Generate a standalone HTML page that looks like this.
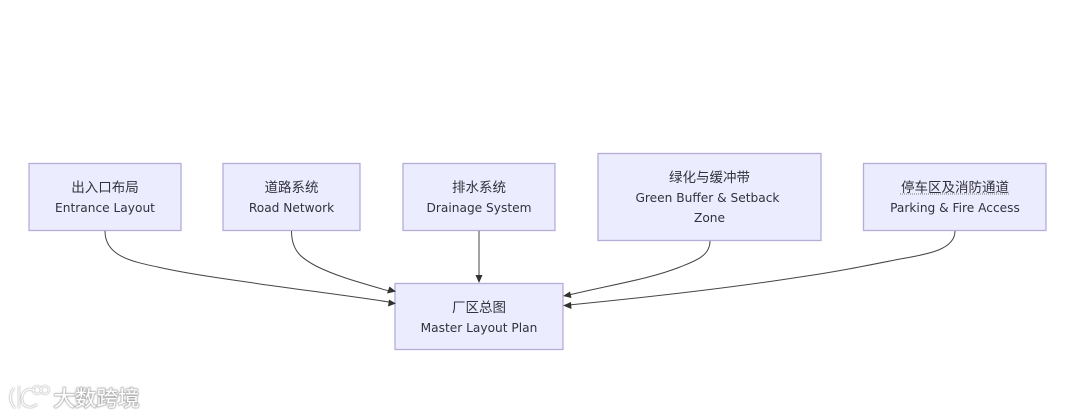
<!DOCTYPE html>
<html><head><meta charset="utf-8"><style>
html,body{margin:0;padding:0;background:#fff}
svg{display:block}
.n{fill:#ECECFF;stroke:#B5ADD8;stroke-width:1.3}
.e{fill:none;stroke:#444;stroke-width:1}
.h{fill:#333}
text{font-family:"DejaVu Sans","Liberation Sans","Noto Sans CJK SC",sans-serif;font-size:12.2px;fill:#33333c;text-anchor:middle}
.z{font-family:"Noto Sans CJK SC",sans-serif;font-size:13.5px}
</style></head><body>
<svg width="1080" height="418" viewBox="0 0 1080 418" xmlns="http://www.w3.org/2000/svg">
<defs><filter id="s" x="-5%" y="-5%" width="110%" height="110%"><feGaussianBlur stdDeviation="0.35"/></filter>
<filter id="w" x="-20%" y="-40%" width="140%" height="180%"><feGaussianBlur stdDeviation="0.8"/></filter></defs>
<g filter="url(#s)">
<rect class="n" x="29" y="163.5" width="152" height="67"/>
<rect class="n" x="223" y="163.5" width="137" height="67"/>
<rect class="n" x="403" y="163.5" width="152" height="67"/>
<rect class="n" x="598" y="153.5" width="223" height="87"/>
<rect class="n" x="863.5" y="163.5" width="182.5" height="67"/>
<rect class="n" x="395" y="283.5" width="168" height="66"/>

<path class="e" d="M105,231 C105,258 135,262 167,269 C200,276 235,280 267,285 C310,291 350,296 389,302"/>
<path class="e" d="M291.5,231 C291.5,252 303,259 316,266 C338,277 362,283 389,291"/>
<path class="e" d="M479,231 L479,277"/>
<path class="e" d="M710,241 C710,256 695,261 680,267 C650,279 610,285 569,295"/>
<path class="e" d="M955,231 C955,249 930,254 900,259 C865,266 835,272 800,277 C730,288 640,298 569,305"/>

<polygon class="h" points="396,291.5 387,293.5 389.5,286.5"/>
<polygon class="h" points="396,303.5 388,306.5 389,299.5"/>
<polygon class="h" points="479,283 475.5,275 482.5,275"/>
<polygon class="h" points="563,296 570,291.5 571.5,298"/>
<polygon class="h" points="563,305.5 571,302 571.5,309"/>

<text class="z" x="105" y="192">出入口布局</text>
<text x="105" y="212">Entrance Layout</text>
<text class="z" x="291.5" y="192">道路系统</text>
<text x="291.5" y="212">Road Network</text>
<text class="z" x="479" y="192">排水系统</text>
<text x="479" y="212">Drainage System</text>
<text class="z" x="709.5" y="182">绿化与缓冲带</text>
<text x="707.5" y="202">Green Buffer &amp; Setback</text>
<text x="709.5" y="222">Zone</text>
<text class="z" x="955" y="192">停车区及消防通道</text>
<line x1="900" y1="194" x2="1010" y2="194" stroke="#555" stroke-width="0.8" stroke-dasharray="1 1"/>
<text x="955" y="212">Parking &amp; Fire Access</text>
<text class="z" x="479" y="312">厂区总图</text>
<text x="479" y="332">Master Layout Plan</text>
</g>

<g filter="url(#w)" opacity="0.7">
<text x="96.5" y="406" style="font-family:'Noto Sans CJK SC',sans-serif;font-size:21.5px;fill:none;stroke:#888;stroke-width:1.6">大数跨境</text>
<path d="M14,388 C9,394 9,402 15,408 M19,386 L19,408 M35,391 C27,386 21,393 22,400 C23,408 32,409 37,404" fill="none" stroke="#888" stroke-width="2"/>
<circle cx="37" cy="390" r="4" fill="none" stroke="#888" stroke-width="1.6"/>
<circle cx="45" cy="390" r="4" fill="none" stroke="#888" stroke-width="1.6"/>
</g>
<text x="96.5" y="406" style="font-family:'Noto Sans CJK SC',sans-serif;font-size:21.5px;fill:#fff">大数跨境</text>
<path d="M14,388 C9,394 9,402 15,408 M19,386 L19,408 M35,391 C27,386 21,393 22,400 C23,408 32,409 37,404" fill="none" stroke="#fff" stroke-width="1.2"/>
<circle cx="37" cy="390" r="4" fill="none" stroke="#fff" stroke-width="1"/>
<circle cx="45" cy="390" r="4" fill="none" stroke="#fff" stroke-width="1"/>
</svg>
</body></html>
